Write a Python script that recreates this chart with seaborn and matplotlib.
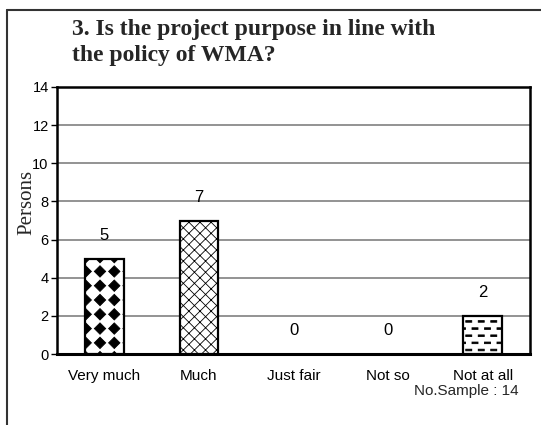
import matplotlib
matplotlib.use("Agg")
import numpy as np
import matplotlib.pyplot as plt
import matplotlib.hatch as mhatch
from matplotlib.path import Path
import seaborn as sns
import pandas as pd
from matplotlib.lines import Line2D

categories = ["Very much", "Much", "Just fair", "Not so", "Not at all"]
values = [5, 7, 0, 0, 2]
y_ticks = [0, 2, 4, 6, 8, 10, 12, 14]
title_lines = ["3. Is the project purpose in line with", "the policy of WMA?"]
y_label = "Persons"
note = "No.Sample : 14"


# --- custom hatch styles: filled diamond grid ('O') and staggered dashes ('o')
class DiamondGrid(mhatch.HatchPatternBase):
    def __init__(self, hatch, density):
        c = hatch.count('O')
        self.n = 7 * c
        self.r = 0.057
        self.num_vertices = ((self.n + 1) ** 2) * 5 if self.n else 0

    def set_vertices_and_codes(self, vertices, codes):
        r = self.r
        shape = np.array([[0, -r], [r, 0], [0, r], [-r, 0], [0, -r]])
        sc = [Path.MOVETO, Path.LINETO, Path.LINETO, Path.LINETO, Path.CLOSEPOLY]
        k = 0
        for j in range(self.n + 1):
            for i in range(self.n + 1):
                vertices[k:k + 5] = shape + [i / self.n, j / self.n]
                codes[k:k + 5] = sc
                k += 5


class DashGrid(mhatch.HatchPatternBase):
    def __init__(self, hatch, density):
        c = hatch.count('o')
        self.rows = 14 * c
        self.cols = 8 * c
        self.pos = []
        if self.rows:
            for j in range(self.rows + 1):
                y = j / self.rows
                off = 0.0 if j % 2 == 0 else 0.5 / self.cols
                for i in range(-1, self.cols + 1):
                    self.pos.append((i / self.cols + off, y))
        self.num_vertices = len(self.pos) * 5

    def set_vertices_and_codes(self, vertices, codes):
        hw, hh = 0.03, 0.008
        shape = np.array([[-hw, -hh], [hw, -hh], [hw, hh], [-hw, hh], [-hw, -hh]])
        sc = [Path.MOVETO, Path.LINETO, Path.LINETO, Path.LINETO, Path.CLOSEPOLY]
        k = 0
        for (x, y) in self.pos:
            vertices[k:k + 5] = shape + [x, y]
            codes[k:k + 5] = sc
            k += 5


mhatch._hatch_types = [t for t in mhatch._hatch_types
                       if t not in (mhatch.SmallCircles, mhatch.LargeCircles)]
mhatch._hatch_types += [DiamondGrid, DashGrid]

sns.set_theme(style="white")
plt.rcParams['font.family'] = ['Liberation Sans', 'DejaVu Sans']
plt.rcParams['hatch.linewidth'] = 0.6

W, H = 541, 425
fig = plt.figure(figsize=(W / 100, H / 100), dpi=100)
fig.patch.set_facecolor("white")


def fx(px):
    return px / W


def fy(py):
    return 1 - py / H


ax = fig.add_axes([fx(57), fy(354), fx(530) - fx(57), fy(87) - fy(354)])

df = pd.DataFrame({"cat": categories, "val": values})
sns.barplot(data=df, x="cat", y="val", ax=ax, width=0.41, color="white",
            edgecolor="black", linewidth=1.6, saturation=1)

hatches = ["O", "xxx", "", "", "o"]
for bar, h, v in zip(ax.patches, hatches, values):
    if v == 0:
        bar.set_visible(False)
        continue
    bar.set_facecolor("white")
    bar.set_edgecolor("black")
    bar.set_hatch(h)
    bar.set_zorder(3)

for i, v in enumerate(values):
    ax.annotate(str(v), (i, v), xytext=(0, 13.5), textcoords="offset points",
                ha="center", va="baseline", fontsize=12, color="black")

ax.set_ylim(0, 14)
ax.set_yticks(y_ticks)
ax.set_yticklabels([str(t) for t in y_ticks], fontsize=10.5, color="black")
ax.set_xticks(range(len(categories)))
ax.set_xticklabels(categories, fontsize=11, color="black")
ax.tick_params(axis="x", length=0, pad=11)
ax.tick_params(axis="y", length=4, width=1, color="black", pad=2, left=True)
ax.set_xlabel("")
ax.set_ylabel("")
ax.yaxis.grid(True, color="#808080", linewidth=1.2)
ax.set_axisbelow(True)
for s in ax.spines.values():
    s.set_visible(True)
    s.set_color("black")
    s.set_linewidth(1.8)
ax.spines["bottom"].set_linewidth(2.2)

fig.text(fx(72), fy(34.5), title_lines[0], family="Liberation Serif",
         fontweight="bold", fontsize=17, va="baseline", ha="left")
fig.text(fx(72), fy(61.5), title_lines[1], family="Liberation Serif",
         fontweight="bold", fontsize=17, va="baseline", ha="left")
fig.text(fx(27), fy(202), y_label, family="Liberation Serif", fontsize=15,
         rotation=90, ha="center", va="center")
fig.text(fx(519), fy(391), note, fontsize=11, ha="right", va="center")

fig.add_artist(Line2D([fx(7), fx(7)], [fy(10), 0], color="#333333", lw=1.5,
                      transform=fig.transFigure))
fig.add_artist(Line2D([fx(7), 1], [fy(10), fy(10)], color="#333333", lw=1.5,
                      transform=fig.transFigure))

fig.savefig("out.png", dpi=100)
